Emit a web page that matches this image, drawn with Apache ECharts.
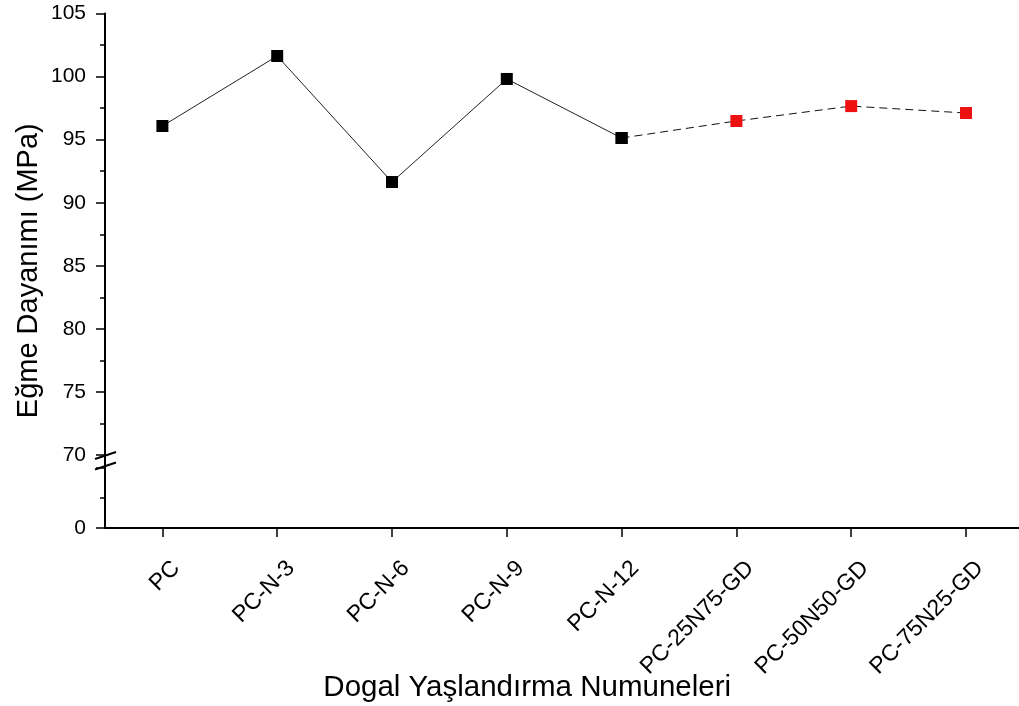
<!DOCTYPE html>
<html>
<head>
<meta charset="utf-8">
<script src="https://cdn.jsdelivr.net/npm/echarts@6/dist/echarts.min.js"></script>
<style>
  html, body { margin: 0; padding: 0; background: #fff; }
  #chart { width: 1019px; height: 706px; }
</style>
</head>
<body>
<div id="chart"></div>
<script>
// Sample names along the x axis
const categories = ['PC', 'PC-N-3', 'PC-N-6', 'PC-N-9', 'PC-N-12', 'PC-25N75-GD', 'PC-50N50-GD', 'PC-75N25-GD'];
// Flexural strength (MPa) of the naturally aged samples (PC .. PC-N-12)
const naturalAging = [96.08, 101.63, 91.64, 99.81, 95.13];
// Flexural strength (MPa) of the GD blends
const gdBlends = [96.48, 97.66, 97.11];
// Axis ranges: upper segment 70..105, lower segment 0..70 (broken axis)
const upperRange = [70, 105];
const lowerRange = [0, 70];

const FONT = "'Liberation Sans', Arial, sans-serif";
const GRID_LEFT = 105;
const GRID_WIDTH = 918.4;
const UPPER_TOP = 13.5, UPPER_BOTTOM = 455;
const LOWER_TOP = 468, LOWER_BOTTOM = 528;

// dashed series: starts at the last natural-aging point, continues over the GD blends
const dashedData = categories.map(() => null);
dashedData[naturalAging.length - 1] = { value: naturalAging[naturalAging.length - 1], itemStyle: { color: '#000' } };
gdBlends.forEach((v, i) => { dashedData[naturalAging.length + i] = { value: v, itemStyle: { color: '#ee1111' } }; });

const chart = echarts.init(document.getElementById('chart'), null, { renderer: 'canvas' });

const yCommon = {
  type: 'value',
  axisLine: { show: true, lineStyle: { color: '#000', width: 2 } },
  axisTick: { show: true, inside: false, length: 9, lineStyle: { color: '#000', width: 1.5 } },
  minorTick: { show: true, splitNumber: 2, length: 5, lineStyle: { color: '#000', width: 1.5 } },
  axisLabel: { color: '#000', fontFamily: FONT, fontSize: 21, margin: 19 },
  splitLine: { show: false }
};

const gridAt = (top, bottom) => ({
  left: GRID_LEFT, width: GRID_WIDTH, top: top, height: bottom - top,
  containLabel: false, outerBoundsMode: 'none'
});

chart.setOption({
  animation: false,
  backgroundColor: '#fff',
  grid: [
    gridAt(UPPER_TOP, UPPER_BOTTOM),
    gridAt(LOWER_TOP, LOWER_BOTTOM),
    gridAt(UPPER_TOP, LOWER_BOTTOM)
  ],
  xAxis: [
    { gridIndex: 0, type: 'category', data: categories, boundaryGap: true, show: false },
    {
      gridIndex: 1, type: 'category', data: categories, boundaryGap: true,
      axisLine: { show: true, lineStyle: { color: '#000', width: 2 } },
      axisTick: { show: true, alignWithLabel: true, length: 9, lineStyle: { color: '#000', width: 1.5 } },
      axisLabel: {
        color: '#000', fontFamily: FONT, fontSize: 23, rotate: 45, margin: 23,
        interval: 0, align: 'right', verticalAlign: 'top', padding: [8, 0, 0, 0]
      },
      name: 'Dogal Yaşlandırma Numuneleri',
      nameLocation: 'middle',
      nameGap: 145,
      nameMoveOverlap: false,
      nameTextStyle: { color: '#000', fontFamily: FONT, fontSize: 29.5, padding: [0, 74, 0, 0] }
    },
    { gridIndex: 2, type: 'category', data: categories, show: false }
  ],
  yAxis: [
    Object.assign({}, yCommon, { gridIndex: 0, min: upperRange[0], max: upperRange[1], interval: 5 }),
    Object.assign({}, yCommon, {
      gridIndex: 1, min: lowerRange[0], max: lowerRange[1], interval: 70,
      axisLabel: Object.assign({}, yCommon.axisLabel, { showMaxLabel: false, formatter: v => (v === lowerRange[1] ? '' : String(v)) })
    }),
    {
      gridIndex: 2, type: 'value', min: 0, max: 1,
      axisLine: { show: false }, axisTick: { show: false }, axisLabel: { show: false }, splitLine: { show: false },
      name: 'Eğme Dayanımı (MPa)',
      nameLocation: 'middle',
      nameGap: 62,
      nameMoveOverlap: false,
      nameTextStyle: { color: '#000', fontFamily: FONT, fontSize: 29 }
    }
  ],
  series: [
    {
      type: 'line', xAxisIndex: 0, yAxisIndex: 0, data: dashedData, z: 2,
      symbol: 'rect', symbolSize: 12, showSymbol: true, connectNulls: false,
      lineStyle: { color: '#111', width: 1, type: [8, 5] },
      itemStyle: { color: '#ee1111' }
    },
    {
      type: 'line', xAxisIndex: 0, yAxisIndex: 0, data: naturalAging, z: 3,
      symbol: 'rect', symbolSize: 12,
      lineStyle: { color: '#222', width: 1 },
      itemStyle: { color: '#000' }
    }
  ]
});

// axis break marks between the two y segments
const yTop = chart.convertToPixel({ yAxisIndex: 0 }, upperRange[0]);
const yBot = chart.convertToPixel({ yAxisIndex: 1 }, lowerRange[1]);
const slash = (cy) => ({
  type: 'line',
  shape: { x1: GRID_LEFT - 10, y1: cy + 3.5, x2: GRID_LEFT + 11, y2: cy - 3.5 },
  style: { stroke: '#000', lineWidth: 2 }
});
chart.setOption({
  graphic: [
    { type: 'line', shape: { x1: GRID_LEFT, y1: yTop, x2: GRID_LEFT, y2: yBot }, style: { stroke: '#000', lineWidth: 2 } },
    slash(yTop + 0.5),
    slash(yBot - 2)
  ]
});
</script>
</body>
</html>
